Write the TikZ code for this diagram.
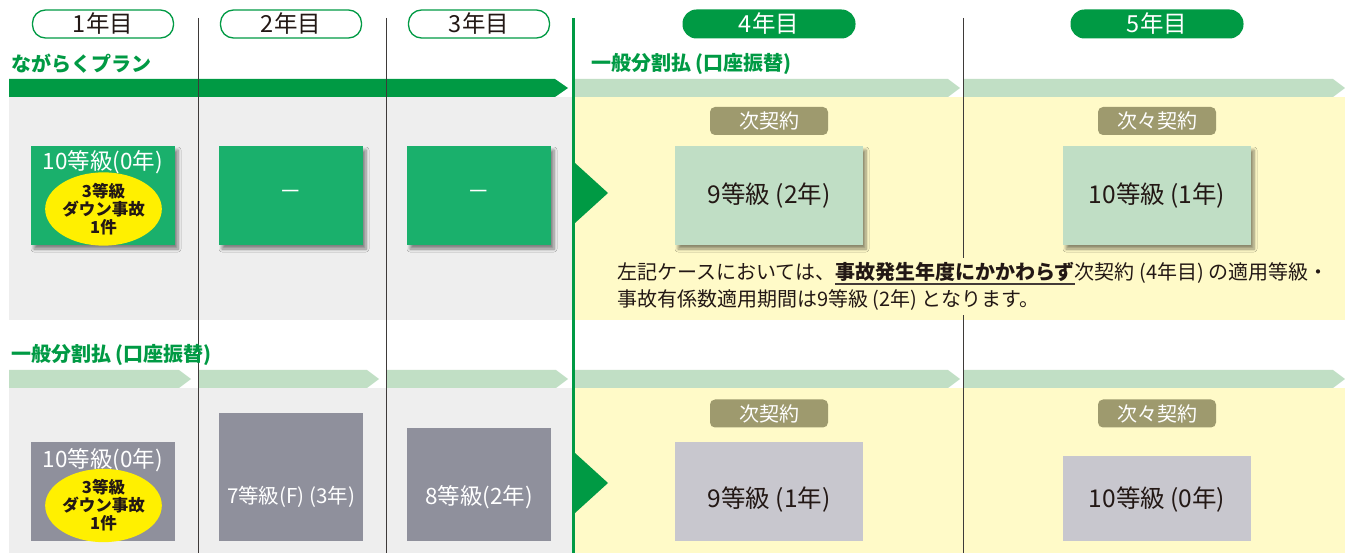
\documentclass[tikz,border=0pt]{standalone}
\usepackage{fontspec}
\setmainfont{Noto Sans CJK JP}
\usetikzlibrary{shapes.geometric,shadows.blur}
\definecolor{dgreen}{HTML}{009A44}
\definecolor{boxgreen}{HTML}{1AB06C}
\definecolor{lgreen}{HTML}{C1DFC5}
\definecolor{graybg}{HTML}{EEEEEE}
\definecolor{yellowbg}{HTML}{FFFAC8}
\definecolor{olive}{HTML}{9E9A6E}
\definecolor{lgbox}{HTML}{C0DEC5}
\definecolor{graybox}{HTML}{8F909C}
\definecolor{lgraybox}{HTML}{C8C7CE}
\definecolor{ellyellow}{HTML}{FFF000}
\definecolor{ink}{HTML}{231815}
\definecolor{divcol}{HTML}{3E3A39}
\newcommand{\myul}[1]{\setbox0\hbox{#1}\rlap{\color{ink!85}\rule[-5pt]{\wd0}{1.3pt}}\box0}
\begin{document}
\begin{tikzpicture}[x=1pt,y=-1pt,
  pillo/.style={draw=dgreen, line width=1.3pt, fill=white, rounded corners=13pt, minimum width=141pt, minimum height=28pt, text=ink, font=\fontsize{23.5}{23.5}\selectfont, inner sep=0pt},
  pillf/.style={fill=dgreen, rounded corners=14pt, minimum width=173pt, minimum height=29pt, text=white, font=\fontsize{23.5}{23.5}\selectfont, inner sep=0pt},
  lbl/.style={anchor=west, text=dgreen, font=\bfseries\fontsize{20}{20}\selectfont, inner sep=0pt},
  shad/.style={blur shadow={shadow xshift=3pt, shadow yshift=-4pt, shadow blur steps=6, shadow blur radius=3pt, shadow opacity=45}},
  gbox/.style={fill=boxgreen, inner sep=0pt, shad},
  lgb/.style={fill=lgbox, inner sep=0pt, shad},
  grb/.style={fill=graybox, inner sep=0pt},
  lgrb/.style={fill=lgraybox, inner sep=0pt},
  tag/.style={fill=olive, rounded corners=5pt, minimum width=118pt, minimum height=28pt, text=white, font=\fontsize{20}{20}\selectfont, inner sep=0pt},
  wtxt/.style={text=white, font=\fontsize{22.5}{22.5}\selectfont, inner sep=0pt},
  dtxt/.style={text=ink, font=\fontsize{24.5}{24.5}\selectfont, inner sep=0pt},
  ell/.style={ellipse, fill=ellyellow, minimum width=113pt, minimum height=60pt, inner sep=0pt, align=center, text=ink, font=\bfseries\fontsize{16.5}{18}\selectfont},
  thinv/.style={draw=divcol, line width=1pt},
  bar/.style={fill=lgreen}
]
\useasboundingbox (0,0) rectangle (1345,553);
\fill[white] (0,0) rectangle (1345,553);
% backgrounds
\fill[graybg] (9,97) rectangle (573,320);
\fill[yellowbg] (573,97) rectangle (1345,320);
\fill[graybg] (9,388) rectangle (573,553);
\fill[yellowbg] (573,388) rectangle (1345,553);
% row 1 bars
\fill[dgreen] (9,79) -- (555,79) -- (568,88) -- (555,97) -- (9,97) -- cycle;
\fill[bar] (575,79) -- (948,79) -- (960,88) -- (948,97) -- (575,97) -- cycle;
\fill[bar] (963,79) -- (1333,79) -- (1345,88) -- (1333,97) -- (963,97) -- cycle;
% row 2 bars
\fill[bar] (9,370) -- (179,370) -- (191,379) -- (179,388) -- (9,388) -- cycle;
\fill[bar] (198,370) -- (367,370) -- (379,379) -- (367,388) -- (198,388) -- cycle;
\fill[bar] (386,370) -- (556,370) -- (568,379) -- (556,388) -- (386,388) -- cycle;
\fill[bar] (575,370) -- (948,370) -- (960,379) -- (948,388) -- (575,388) -- cycle;
\fill[bar] (963,370) -- (1333,370) -- (1345,379) -- (1333,388) -- (963,388) -- cycle;
% dividers
\draw[thinv] (198,18) -- (198,553);
\draw[thinv] (386,18) -- (386,553);
\draw[thinv] (963,18) -- (963,553);
\draw[dgreen, line width=3.5pt] (573.5,18) -- (573.5,553);
% triangles
\fill[dgreen] (575,163) -- (608,193) -- (575,223) -- cycle;
\fill[dgreen] (575,453) -- (608,483) -- (575,513) -- cycle;
% pills
\node[pillo] (p1) at (103,24) {1年目};
\node[pillo] (p2) at (291,24) {2年目};
\node[pillo] (p3) at (479,24) {3年目};
\node[pillf] (p4) at (769,24) {4年目};
\node[pillf] (p5) at (1157,24) {5年目};
% labels
\node[lbl] (l1) at (11,64) {ながらくプラン};
\node[lbl] (l2) at (591,64) {一般分割払 (口座振替)};
\node[lbl] (l3) at (11,355) {一般分割払 (口座振替)};
% row 1 boxes
\node[gbox, minimum width=144pt, minimum height=99pt] (b11) at (103,195.5) {};
\node[wtxt] (t11) at (103,162) {10等級(0年)};
\node[ell] (e11) at (103.5,209) {3等級\\ダウン事故\\1件};
\node[gbox, minimum width=144pt, minimum height=99pt] (b12) at (291,195.5) {};
\node[wtxt] (t12) at (291,195) {－};
\node[gbox, minimum width=144pt, minimum height=99pt] (b13) at (479,195.5) {};
\node[wtxt] (t13) at (479,195) {－};
\node[tag] (g14) at (769,121) {次契約};
\node[lgb, minimum width=188pt, minimum height=99pt] (b14) at (769,195.5) {};
\node[dtxt] (t14) at (769,196) {9等級 (2年)};
\node[tag] (g15) at (1157,121) {次々契約};
\node[lgb, minimum width=188pt, minimum height=99pt] (b15) at (1157,195.5) {};
\node[dtxt] (t15) at (1157,196) {10等級 (1年)};
% note
\node[anchor=west, fill=yellowbg, align=left, text=ink, font=\fontsize{20}{27}\selectfont, inner xsep=3pt, inner ysep=4pt] (note) at (614,286.5)
  {左記ケースにおいては、\myul{\bfseries 事故発生年度にかかわらず} 次契約 (4年目) の適用等級・\\事故有係数適用期間は9等級 (2年) となります。};
% row 2 boxes
\node[grb, minimum width=144pt, minimum height=99pt] (b21) at (103,491.5) {};
\node[wtxt] (t21) at (103,460) {10等級(0年)};
\node[ell] (e21) at (103.5,505.5) {3等級\\ダウン事故\\1件};
\node[grb, minimum width=144pt, minimum height=128pt] (b22) at (291,477) {};
\node[wtxt, font=\fontsize{20.5}{20.5}\selectfont] (t22) at (291,497) {7等級(F) (3年)};
\node[grb, minimum width=144pt, minimum height=113pt] (b23) at (479,484.5) {};
\node[wtxt] (t23) at (479,497) {8等級(2年)};
\node[tag] (g24) at (769,413.5) {次契約};
\node[lgrb, minimum width=188pt, minimum height=99pt] (b24) at (769,491.5) {};
\node[dtxt] (t24) at (769,500) {9等級 (1年)};
\node[tag] (g25) at (1157,413.5) {次々契約};
\node[lgrb, minimum width=188pt, minimum height=85pt] (b25) at (1157,498.5) {};
\node[dtxt] (t25) at (1157,500) {10等級 (0年)};
\end{tikzpicture}
\end{document}
